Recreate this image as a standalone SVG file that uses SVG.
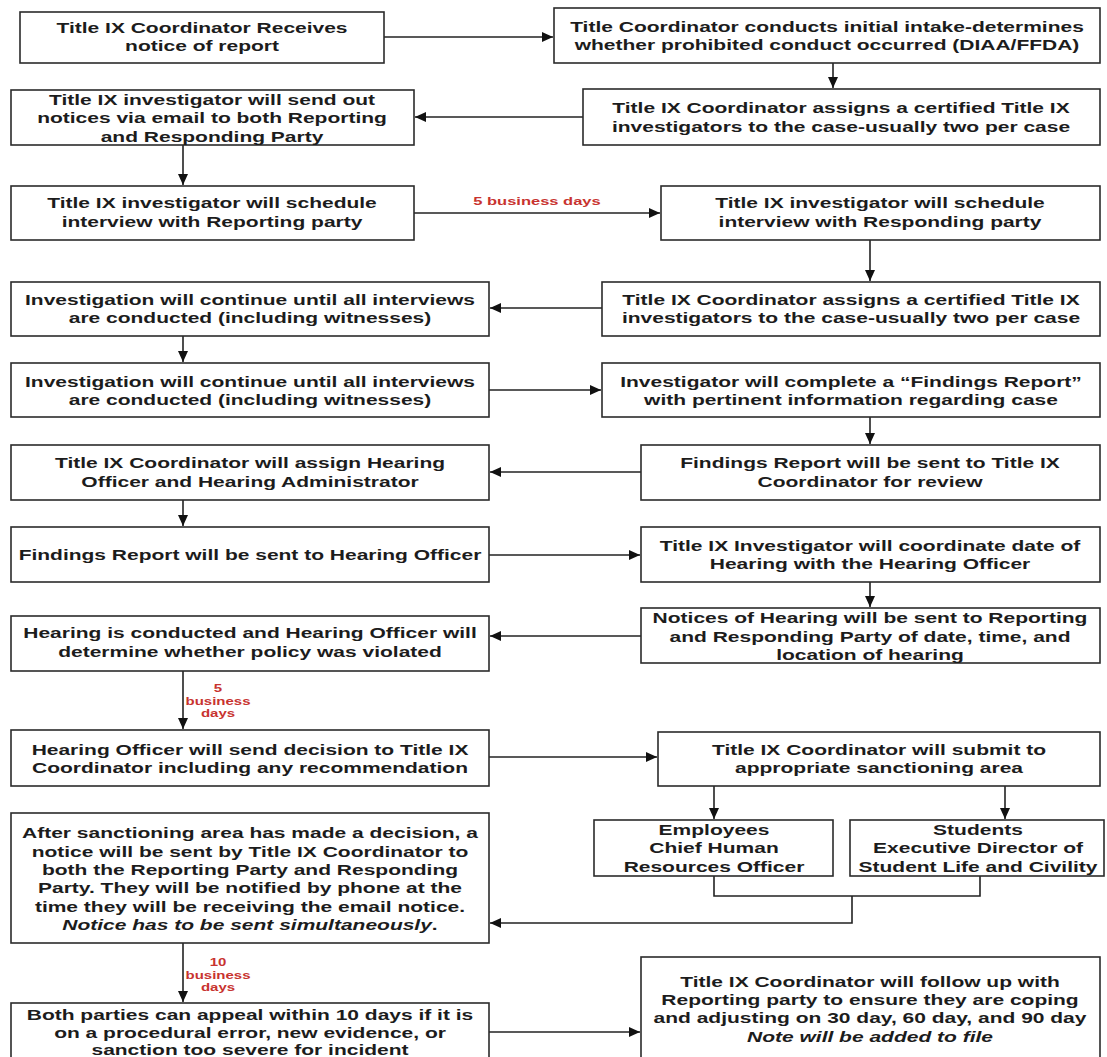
<svg xmlns="http://www.w3.org/2000/svg" width="1107" height="1057" viewBox="0 0 1107 1057">
<style>
.box{fill:#fff;stroke:#2b2b2b;stroke-width:1.6}
.t{font-family:"Liberation Sans",Arial,sans-serif;font-weight:bold;font-size:14px;fill:#1c1c1c;text-anchor:middle}
.r{font-family:"Liberation Sans",Arial,sans-serif;font-weight:bold;fill:#c8332f;text-anchor:middle}
.i{font-style:italic}
.conn{fill:none;stroke:#222;stroke-width:1.6}
</style>
<defs>
<marker id="ah" markerUnits="userSpaceOnUse" markerWidth="12" markerHeight="10" refX="11" refY="5" orient="auto">
<path d="M0,0 L11,5 L0,10 z" fill="#111"/>
</marker>
</defs>
<rect width="1107" height="1057" fill="#fff"/>
<g id="connectors">
<path class="conn" d="M384,37 H553" marker-end="url(#ah)"/>
<path class="conn" d="M833,63 V88" marker-end="url(#ah)"/>
<path class="conn" d="M583,117 H415" marker-end="url(#ah)"/>
<path class="conn" d="M183,145 V185" marker-end="url(#ah)"/>
<path class="conn" d="M414,213 H660" marker-end="url(#ah)"/>
<path class="conn" d="M870,240 V281" marker-end="url(#ah)"/>
<path class="conn" d="M602,308 H490" marker-end="url(#ah)"/>
<path class="conn" d="M183,336 V362" marker-end="url(#ah)"/>
<path class="conn" d="M489,390 H601" marker-end="url(#ah)"/>
<path class="conn" d="M870,417 V444" marker-end="url(#ah)"/>
<path class="conn" d="M641,472 H490" marker-end="url(#ah)"/>
<path class="conn" d="M183,500 V526" marker-end="url(#ah)"/>
<path class="conn" d="M489,555 H640" marker-end="url(#ah)"/>
<path class="conn" d="M870,582 V607" marker-end="url(#ah)"/>
<path class="conn" d="M641,636 H490" marker-end="url(#ah)"/>
<path class="conn" d="M183,671 V729" marker-end="url(#ah)"/>
<path class="conn" d="M489,757 H657" marker-end="url(#ah)"/>
<path class="conn" d="M714,786 V819" marker-end="url(#ah)"/>
<path class="conn" d="M1005,786 V819" marker-end="url(#ah)"/>
<path class="conn" d="M714,876 V896 H980 V876"/>
<path class="conn" d="M852,896 V923 H490" marker-end="url(#ah)"/>
<path class="conn" d="M183,943 V1002" marker-end="url(#ah)"/>
<path class="conn" d="M489,1032 H640" marker-end="url(#ah)"/>
<text class="r" font-size="11" transform="translate(537 0) scale(1.5 1)"><tspan x="0" y="205">5 business days</tspan></text>
<text class="r" font-size="10" transform="translate(218 0) scale(1.5 1)"><tspan x="0" y="692">5</tspan><tspan x="0" y="705">business</tspan><tspan x="0" y="717">days</tspan></text>
<text class="r" font-size="10" transform="translate(218 0) scale(1.5 1)"><tspan x="0" y="966">10</tspan><tspan x="0" y="979">business</tspan><tspan x="0" y="991">days</tspan></text>
</g>
<g id="n1"><rect class="box" x="20" y="12" width="364" height="51"/>
<text class="t" transform="translate(202 0) scale(1.5 1)"><tspan x="0" y="33">Title IX Coordinator Receives</tspan><tspan x="0" y="51">notice of report</tspan></text></g>
<g id="n2"><rect class="box" x="554" y="8" width="546" height="55"/>
<text class="t" transform="translate(827 0) scale(1.5 1)"><tspan x="0" y="32">Title Coordinator conducts initial intake-determines</tspan><tspan x="0" y="50">whether prohibited conduct occurred (DIAA/FFDA)</tspan></text></g>
<g id="n3"><rect class="box" x="583" y="89" width="517" height="56"/>
<text class="t" transform="translate(841 0) scale(1.5 1)"><tspan x="0" y="113">Title IX Coordinator assigns a certified Title IX</tspan><tspan x="0" y="132">investigators to the case-usually two per case</tspan></text></g>
<g id="n4"><rect class="box" x="11" y="90" width="403" height="55"/>
<text class="t" transform="translate(212 0) scale(1.5 1)"><tspan x="0" y="105">Title IX investigator will send out</tspan><tspan x="0" y="123">notices via email to both Reporting</tspan><tspan x="0" y="142">and Responding Party</tspan></text></g>
<g id="n5"><rect class="box" x="11" y="186" width="403" height="54"/>
<text class="t" transform="translate(212 0) scale(1.5 1)"><tspan x="0" y="208">Title IX investigator will schedule</tspan><tspan x="0" y="227">interview with Reporting party</tspan></text></g>
<g id="n6"><rect class="box" x="661" y="186" width="439" height="54"/>
<text class="t" transform="translate(880 0) scale(1.5 1)"><tspan x="0" y="208">Title IX investigator will schedule</tspan><tspan x="0" y="227">interview with Responding party</tspan></text></g>
<g id="n7"><rect class="box" x="602" y="282" width="498" height="54"/>
<text class="t" transform="translate(851 0) scale(1.5 1)"><tspan x="0" y="305">Title IX Coordinator assigns a certified Title IX</tspan><tspan x="0" y="323">investigators to the case-usually two per case</tspan></text></g>
<g id="n8"><rect class="box" x="11" y="282" width="478" height="54"/>
<text class="t" transform="translate(250 0) scale(1.5 1)"><tspan x="0" y="305">Investigation will continue until all interviews</tspan><tspan x="0" y="323">are conducted (including witnesses)</tspan></text></g>
<g id="n9"><rect class="box" x="11" y="363" width="478" height="54"/>
<text class="t" transform="translate(250 0) scale(1.5 1)"><tspan x="0" y="387">Investigation will continue until all interviews</tspan><tspan x="0" y="405">are conducted (including witnesses)</tspan></text></g>
<g id="n10"><rect class="box" x="602" y="363" width="498" height="54"/>
<text class="t" transform="translate(851 0) scale(1.5 1)"><tspan x="0" y="387">Investigator will complete a “Findings Report”</tspan><tspan x="0" y="405">with pertinent information regarding case</tspan></text></g>
<g id="n11"><rect class="box" x="641" y="445" width="459" height="55"/>
<text class="t" transform="translate(870 0) scale(1.5 1)"><tspan x="0" y="468">Findings Report will be sent to Title IX</tspan><tspan x="0" y="487">Coordinator for review</tspan></text></g>
<g id="n12"><rect class="box" x="11" y="445" width="478" height="55"/>
<text class="t" transform="translate(250 0) scale(1.5 1)"><tspan x="0" y="468">Title IX Coordinator will assign Hearing</tspan><tspan x="0" y="487">Officer and Hearing Administrator</tspan></text></g>
<g id="n13"><rect class="box" x="11" y="527" width="478" height="55"/>
<text class="t" transform="translate(250 0) scale(1.5 1)"><tspan x="0" y="560">Findings Report will be sent to Hearing Officer</tspan></text></g>
<g id="n14"><rect class="box" x="641" y="527" width="459" height="55"/>
<text class="t" transform="translate(870 0) scale(1.5 1)"><tspan x="0" y="551">Title IX Investigator will coordinate date of</tspan><tspan x="0" y="569">Hearing with the Hearing Officer</tspan></text></g>
<g id="n15"><rect class="box" x="641" y="608" width="459" height="55"/>
<text class="t" transform="translate(870 0) scale(1.5 1)"><tspan x="0" y="623">Notices of Hearing will be sent to Reporting</tspan><tspan x="0" y="642">and Responding Party of date, time, and</tspan><tspan x="0" y="660">location of hearing</tspan></text></g>
<g id="n16"><rect class="box" x="11" y="616" width="478" height="55"/>
<text class="t" transform="translate(250 0) scale(1.5 1)"><tspan x="0" y="638">Hearing is conducted and Hearing Officer will</tspan><tspan x="0" y="657">determine whether policy was violated</tspan></text></g>
<g id="n17"><rect class="box" x="11" y="730" width="478" height="56"/>
<text class="t" transform="translate(250 0) scale(1.5 1)"><tspan x="0" y="755">Hearing Officer will send decision to Title IX</tspan><tspan x="0" y="773">Coordinator including any recommendation</tspan></text></g>
<g id="n18"><rect class="box" x="658" y="732" width="442" height="54"/>
<text class="t" transform="translate(879 0) scale(1.5 1)"><tspan x="0" y="755">Title IX Coordinator will submit to</tspan><tspan x="0" y="773">appropriate sanctioning area</tspan></text></g>
<g id="n19"><rect class="box" x="594" y="820" width="239" height="56"/>
<text class="t" transform="translate(714 0) scale(1.5 1)"><tspan x="0" y="835">Employees</tspan><tspan x="0" y="853">Chief Human</tspan><tspan x="0" y="872">Resources Officer</tspan></text></g>
<g id="n20"><rect class="box" x="850" y="820" width="254" height="56"/>
<text class="t" transform="translate(978 0) scale(1.5 1)"><tspan x="0" y="835">Students</tspan><tspan x="0" y="853">Executive Director of</tspan><tspan x="0" y="872">Student Life and Civility</tspan></text></g>
<g id="n21"><rect class="box" x="11" y="813" width="478" height="130"/>
<text class="t" transform="translate(250 0) scale(1.5 1)"><tspan x="0" y="838">After sanctioning area has made a decision, a</tspan><tspan x="0" y="857">notice will be sent by Title IX Coordinator to</tspan><tspan x="0" y="875">both the Reporting Party and Responding</tspan><tspan x="0" y="893">Party. They will be notified by phone at the</tspan><tspan x="0" y="912">time they will be receiving the email notice.</tspan><tspan x="0" y="930"><tspan class="i">Notice has to be sent simultaneously</tspan>.</tspan></text></g>
<g id="n22"><rect class="box" x="11" y="1003" width="478" height="70"/>
<text class="t" transform="translate(250 0) scale(1.5 1)"><tspan x="0" y="1020">Both parties can appeal within 10 days if it is</tspan><tspan x="0" y="1038">on a procedural error, new evidence, or</tspan><tspan x="0" y="1055">sanction too severe for incident</tspan></text></g>
<g id="n23"><rect class="box" x="641" y="957" width="459" height="120"/>
<text class="t" transform="translate(870 0) scale(1.5 1)"><tspan x="0" y="987">Title IX Coordinator will follow up with</tspan><tspan x="0" y="1005">Reporting party to ensure they are coping</tspan><tspan x="0" y="1023">and adjusting on 30 day, 60 day, and 90 day</tspan><tspan x="0" y="1042" class="i">Note will be added to file</tspan></text></g>
</svg>
